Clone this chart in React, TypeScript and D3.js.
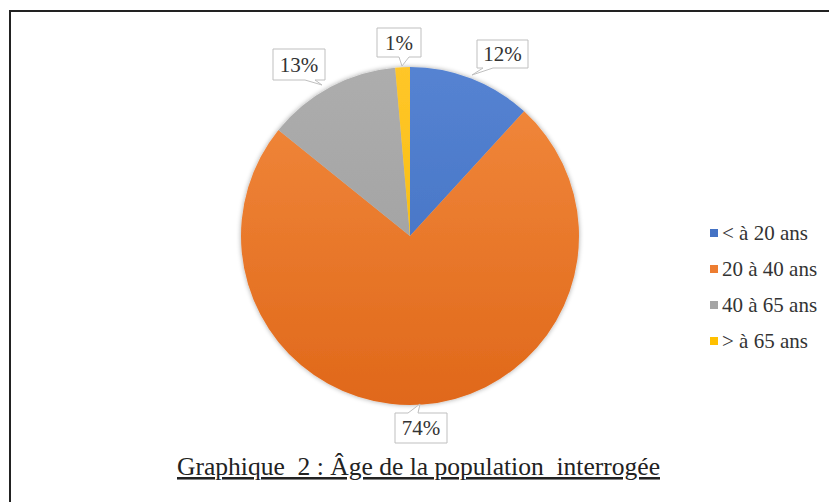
import React from "react";
import * as d3 from "d3";

const categories = ["< à 20 ans", "20 à 40 ans", "40 à 65 ans", "> à 65 ans"];
const values = [11.8, 74.0, 12.8, 1.4];
const colorsLight = ["#5583D2", "#F28A3E", "#ADADAD", "#FFC629"];
const colorsDark = ["#3F6CBE", "#E0681A", "#9C9C9C", "#F2B800"];
const legendColors = ["#4472C4", "#ED7D31", "#A5A5A5", "#FFC000"];
const labelText = values.map((v) => `${Math.round(v)}%`);
const title = "Graphique  2 : Âge de la population  interrogée";

const labelBoxes = [
  { x: 477, y: 40, w: 51, h: 28, tipX: 472, tipY: 75, side: "bottom", baseX: 488 },
  { x: 395, y: 413, w: 52, h: 30, tipX: 420, tipY: 404, side: "top", baseX: 413 },
  { x: 273, y: 49, w: 52, h: 31, tipX: 322, tipY: 85, side: "bottom", baseX: 310 },
  { x: 377, y: 28, w: 44, h: 29, tipX: 402, tipY: 66, side: "bottom", baseX: 404 },
];

const font = "Liberation Serif";

export default function App() {
  const W = 829;
  const H = 502;
  const cx = 410;
  const cy = 236;
  const r = 169;

  const pie = d3.pie<number>().sort(null).value((d) => d)(values);
  const arc = d3.arc<d3.PieArcDatum<number>>().innerRadius(0).outerRadius(r);

  const legendY = d3.scaleBand<number>().domain(d3.range(categories.length)).range([215, 359]);

  return (
    <svg width={W} height={H} style={{ position: "absolute", left: 0, top: 0 }} fontFamily={font}>
      <defs>
        {values.map((_, i) => (
          <linearGradient key={i} id={`g${i}`} x1="0" y1={-r} x2="0" y2={r} gradientUnits="userSpaceOnUse">
            <stop offset="0%" stopColor={colorsLight[i]} />
            <stop offset="100%" stopColor={colorsDark[i]} />
          </linearGradient>
        ))}
        <filter id="shadow" x="-20%" y="-20%" width="140%" height="140%">
          <feGaussianBlur in="SourceAlpha" stdDeviation="2.5" />
          <feComponentTransfer>
            <feFuncA type="linear" slope="0.35" />
          </feComponentTransfer>
          <feMerge>
            <feMergeNode />
            <feMergeNode in="SourceGraphic" />
          </feMerge>
        </filter>
      </defs>
      <rect x={0} y={0} width={W} height={H} fill="#fff" />
      <path d={`M10,${H + 5} L10,11 L${W + 5},11`} fill="none" stroke="#222" strokeWidth={2} />

      <g transform={`translate(${cx},${cy})`} filter="url(#shadow)">
        {pie.map((p, i) => (
          <path key={i} d={arc(p) || ""} fill={`url(#g${i})`} />
        ))}
      </g>

      {labelBoxes.map((b, i) => {
        const isBottom = b.side === "bottom";
        const edgeY = isBottom ? b.y + b.h : b.y;
        const p1 = b.baseX - 5;
        const p2 = b.baseX + 5;
        const d = isBottom
          ? `M${b.x},${b.y} H${b.x + b.w} V${edgeY} H${p2} L${b.tipX},${b.tipY} L${p1},${edgeY} H${b.x} Z`
          : `M${b.x},${b.y + b.h} H${b.x + b.w} V${b.y} H${p2} L${b.tipX},${b.tipY} L${p1},${b.y} H${b.x} Z`;
        return (
          <g key={i}>
            <path d={d} fill="#fff" stroke="#BFBFBF" strokeWidth={1} />
            <text
              x={b.x + b.w / 2}
              y={b.y + b.h / 2 + 7}
              textAnchor="middle"
              fontFamily={font}
              fontSize={21}
              fill="#333"
            >
              {labelText[i]}
            </text>
          </g>
        );
      })}

      {categories.map((c, i) => {
        const y = (legendY(i) as number) + legendY.bandwidth() / 2;
        return (
          <g key={i}>
            <rect x={710} y={y - 4} width={8} height={8} fill={legendColors[i]} />
            <text x={722} y={y + 6.5} fontFamily={font} fontSize={21} fill="#333">
              {c}
            </text>
          </g>
        );
      })}

      <text
        x={177}
        y={475}
        fontFamily={font}
        fontSize={25.5}
        style={{ whiteSpace: "pre" }}
        fill="#222"
        textDecoration="underline"
        textLength={483}
        lengthAdjust="spacingAndGlyphs"
      >
        {title}
      </text>
    </svg>
  );
}
